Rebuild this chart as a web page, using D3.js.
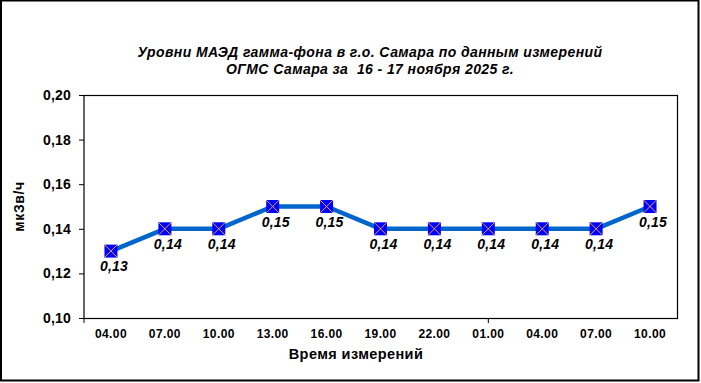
<!DOCTYPE html>
<html><head><meta charset="utf-8">
<script src="https://cdn.jsdelivr.net/npm/d3@7"></script>
<style>body{margin:0;background:#fff}svg{display:block}text{font-family:"Liberation Sans",Arial,sans-serif}</style>
</head><body>
<svg id="c" width="701" height="383"></svg>
<script>
const titleLines = ["Уровни МАЭД гамма-фона в г.о. Самара по данным измерений", "ОГМС Самара за  16 - 17 ноября 2025 г."];
const categories = ["04.00","07.00","10.00","13.00","16.00","19.00","22.00","01.00","04.00","07.00","10.00"];
const values = [0.13,0.14,0.14,0.15,0.15,0.14,0.14,0.14,0.14,0.14,0.15];
const yTicks = [0.10,0.12,0.14,0.16,0.18,0.20];
const yTitle = "мкЗв/ч";
const xTitle = "Время измерений";
const dayBreakIndex = 8; // tick between day 1 and day 2

const svg = d3.select("#c");
const L = 84, R = 677, T = 95, B = 318;

// outer border
svg.append("rect").attr("x",1).attr("y",0.5).attr("width",697.5).attr("height",380)
  .attr("fill","#fff").attr("stroke","#000").attr("stroke-width",2);

const idx = categories.map((d,i)=>i);
const x = d3.scaleBand().domain(idx).range([L,R]).paddingInner(0).paddingOuter(0);
const y = d3.scaleLinear().domain([0.10,0.20]).range([B,T]);
const cx = i => x(i) + x.bandwidth()/2;

// plot frame
svg.append("rect").attr("x",L).attr("y",T+0.5).attr("width",R-L+0.5).attr("height",B-T)
  .attr("fill","none").attr("stroke","#000").attr("stroke-width",1.2);

// y axis
const yAxis = d3.axisLeft(y).tickValues(yTicks).tickSize(5).tickPadding(8)
  .tickFormat(d=>d3.format(".2f")(d).replace(".",","));
const gy = svg.append("g").attr("transform",`translate(${L},0)`).call(yAxis);
gy.select(".domain").remove();
gy.selectAll("line").attr("stroke","#000");
gy.selectAll("text").attr("font-size",14).attr("font-weight","bold").attr("fill","#000")
  .attr("letter-spacing",0.2);

// x axis labels
const gx = svg.append("g").attr("transform",`translate(0,${B})`)
  .call(d3.axisBottom(x).tickSize(0).tickPadding(11).tickFormat(i=>categories[i]));
gx.select(".domain").remove();
gx.selectAll("text").attr("font-size",12).attr("font-weight","bold").attr("fill","#000")
  .attr("letter-spacing",0.4).attr("dy","0.71em");
// x ticks at left edge and day boundary
svg.append("g").selectAll("line").data([L, x(dayBreakIndex) - x.bandwidth()/2]).join("line")
  .attr("x1",d=>d).attr("x2",d=>d).attr("y1",B).attr("y2",B+5).attr("stroke","#000");

// line
const line = d3.line().x((d,i)=>cx(i)).y(d=>y(d));
svg.append("path").datum(values).attr("d",line).attr("fill","none")
  .attr("stroke","#0066CC").attr("stroke-width",4.5).attr("stroke-linejoin","round");

// markers
const ms = 13;
const mg = svg.append("g").selectAll("g").data(values).join("g")
  .attr("transform",(d,i)=>`translate(${cx(i)},${y(d)})`);
mg.append("rect").attr("x",-ms/2).attr("y",-ms/2).attr("width",ms).attr("height",ms)
  .attr("fill","#0000FF");
mg.append("path").attr("d",`M${-ms/2},${-ms/2}L${ms/2},${ms/2}M${ms/2},${-ms/2}L${-ms/2},${ms/2}`)
  .attr("stroke","#E8A33A").attr("stroke-width",1);

// data labels
svg.append("g").selectAll("text").data(values).join("text")
  .attr("x",(d,i)=>cx(i)+3).attr("y",d=>y(d)+20)
  .attr("text-anchor","middle").attr("font-size",14).attr("font-weight","bold")
  .attr("font-style","italic").attr("fill","#000").attr("letter-spacing",0.2)
  .text(d=>d3.format(".2f")(d).replace(".",","));

// title
svg.append("g").selectAll("text").data(titleLines).join("text")
  .attr("x",370).attr("y",(d,i)=>57+i*17).attr("text-anchor","middle")
  .attr("font-size",14).attr("font-weight","bold").attr("font-style","italic")
  .attr("letter-spacing",0.4)
  .attr("xml:space","preserve").style("white-space","pre")
  .text(d=>d);

// axis titles
svg.append("text").attr("x",356).attr("y",359).attr("text-anchor","middle")
  .attr("font-size",14.5).attr("font-weight","bold").attr("letter-spacing",0.4).text(xTitle);
svg.append("text").attr("transform",`translate(24,${(T+B)/2}) rotate(-90)`)
  .attr("text-anchor","middle").attr("font-size",14).attr("font-weight","bold")
  .attr("letter-spacing",0.6).text(yTitle);
</script>
</body></html>
